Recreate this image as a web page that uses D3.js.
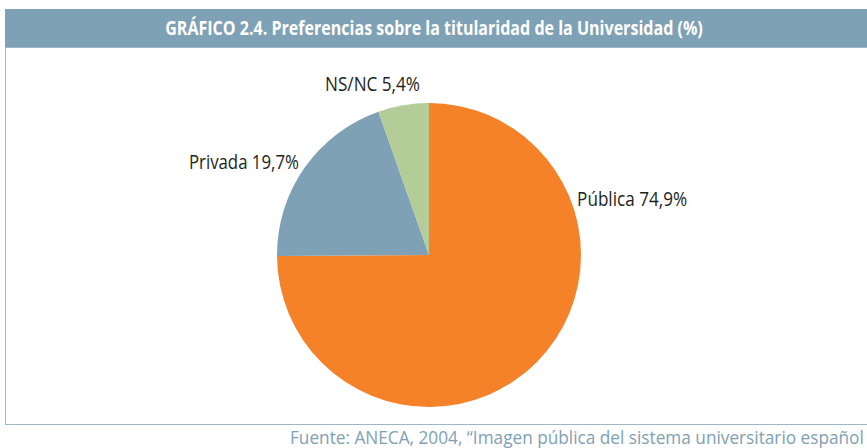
<!DOCTYPE html>
<html>
<head>
<meta charset="utf-8">
<script src="https://cdn.jsdelivr.net/npm/d3@7"></script>
<style>
  body { margin: 0; background: #fff; }
  svg { display: block; }
</style>
</head>
<body>
<svg width="867" height="448"></svg>
<script>
const categories = ["Pública", "Privada", "NS/NC"];
const values = [74.9, 19.7, 5.4];
const labels = ["Pública 74,9%", "Privada 19,7%", "NS/NC 5,4%"];
const colors = ["#f58228", "#7fa1b5", "#b3cc98"];
const title = "GRÁFICO 2.4. Preferencias sobre la titularidad de la Universidad (%)";
// the original is cropped right after "español"
const source = "Fuente: ANECA, 2004, “Imagen pública del sistema universitario español";

const svg = d3.select("svg");
const width = 867, height = 448;

// squeeze a text node horizontally around its anchor x so it's as wide as w
function fit(sel, x, w) {
  const tw = sel.node().getComputedTextLength();
  const k = w / tw;
  sel.attr("transform", `translate(${x * (1 - k)},0) scale(${k},1)`);
}

// frame + header
svg.append("rect")
  .attr("x", 5.5).attr("y", 47.5)
  .attr("width", 900).attr("height", 377)
  .attr("fill", "#fff")
  .attr("stroke", "#9fb6c6").attr("stroke-width", 1);

svg.append("rect")
  .attr("x", 5).attr("y", 9)
  .attr("width", 900).attr("height", 38)
  .attr("fill", "#7fa1b5");

const t = svg.append("text")
  .attr("x", 434).attr("y", 35)
  .attr("text-anchor", "middle")
  .attr("fill", "#fff")
  .style("font-family", "'Open Sans', sans-serif")
  .style("font-weight", "bold")
  .style("font-size", "19px")
  .text(title);
fit(t, 434, 538);

// pie
const cx = 429, cy = 255, r = 152;
const g = svg.append("g").attr("transform", `translate(${cx},${cy})`);

const pie = d3.pie().sort(null).value(d => d);
const arc = d3.arc().innerRadius(0).outerRadius(r);
const arcs = pie(values);

g.selectAll("path")
  .data(arcs)
  .enter()
  .append("path")
  .attr("d", arc)
  .attr("fill", (d, i) => colors[i]);

// label placement: angle (deg, clockwise from top), radius, anchor, width
const labelAngle = [71.7, 303.5, 341];
const labelRadius = [156, 156, 173.5];
const labelAnchor = ["start", "end", "middle"];
const labelWidth = [110, 110, 95];

g.selectAll("text.lbl")
  .data(arcs)
  .enter()
  .append("text")
  .attr("class", "lbl")
  .attr("x", (d, i) => labelRadius[i] * Math.sin(labelAngle[i] * Math.PI / 180))
  .attr("y", (d, i) => -labelRadius[i] * Math.cos(labelAngle[i] * Math.PI / 180))
  .attr("text-anchor", (d, i) => labelAnchor[i])
  .attr("fill", "#231f20")
  .style("font-family", "'Open Sans', sans-serif")
  .style("font-size", "20px")
  .text((d, i) => labels[i])
  .each(function(d, i) {
    const el = d3.select(this);
    fit(el, +el.attr("x"), labelWidth[i]);
  });

// source line
const s = svg.append("text")
  .attr("x", 290).attr("y", 444)
  .attr("fill", "#7fa1b5")
  .style("font-family", "'Open Sans', sans-serif")
  .style("font-size", "18px")
  .text(source);
fit(s, 290, 574);
</script>
</body>
</html>
